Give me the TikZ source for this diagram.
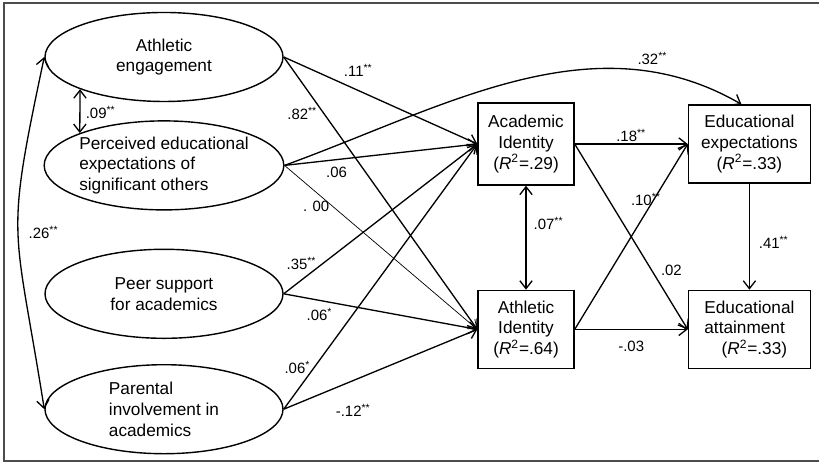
\documentclass[tikz,border=0pt]{standalone}
\usepackage{fontspec}
\setmainfont{Liberation Sans}
\usetikzlibrary{positioning,shapes.geometric,arrows.meta}

\begin{document}
\begin{tikzpicture}[
        >={Straight Barb[length=4.5pt,width=7pt]},
        latent/.style={ellipse,draw,line width=0.8pt,minimum width=4.76cm,minimum height=1.78cm,inner sep=0pt,align=center,font=\fontsize{9.8}{11.8}\selectfont},
        observed/.style={rectangle,draw,line width=0.8pt,minimum width=1.92cm,minimum height=1.56cm,inner sep=0pt,align=center,font=\fontsize{9.8}{11.8}\selectfont},
        outcome/.style={observed,minimum width=2.44cm},
        effect/.style={->,line width=0.75pt},
        lbl/.style={inner sep=1pt,font=\fontsize{8.5}{10}\selectfont}
    ]
        \useasboundingbox (0,0) rectangle (16.38,9.28);
        \draw[line width=1.2pt,black!70] (16.38,9.22) -- (0.08,9.22) -- (0.08,0.06) -- (16.38,0.06);
        \node[latent] (ae) at (3.28,8.14) {Athletic\\engagement};
        \node[latent,below=0.36cm of ae,align=left] (pe) {Perceived educational\\expectations of\\significant others};
        \node[latent,below=0.76cm of pe] (ps) {Peer support\\for academics};
        \node[latent,below=0.5cm of ps,align=left] (pi) {Parental\\involvement in\\academics};
        \node[observed,minimum height=1.64cm] (ai) at (10.52,6.40) {Academic\\Identity\\(\textit{R}\textsuperscript{2}=.29)};
        \node[observed,below=2.08cm of ai] (ati) {Athletic\\Identity\\(\textit{R}\textsuperscript{2}=.64)};
        \node[outcome,right=2.26cm of ai] (ee) {Educational\\expectations\\(\textit{R}\textsuperscript{2}=.33)};
        \node[outcome,right=2.26cm of ati,align=left] (eat) {Educational\\attainment\\\hspace*{1em}(\textit{R}\textsuperscript{2}=.33)};
        \draw[effect] (ae.east) -- node[lbl,pos=.385,above=6.5pt] {.11\textsuperscript{**}} (ai.west);
        \draw[effect] (ae.east) -- node[lbl,pos=.207,left=2.4pt] {.82\textsuperscript{**}} (ati.west);
        \draw[effect] (pe.east) -- node[lbl,pos=.27,below=3pt] {.06} (ai.west);
        \draw[effect,line width=0.4pt] (pe.east) -- node[lbl,pos=.164,below=4pt] {. 00} (ati.west);
        \draw[effect] (pe.east) to[out=20,in=150,looseness=0.95] node[lbl,pos=.8,above=3pt] {.32\textsuperscript{**}} ([xshift=-0.16cm]ee.north);
        \draw[effect] (ps.east) -- node[lbl,pos=.092,above=4.8pt] {.35\textsuperscript{**}} (ai.west);
        \draw[effect] (ps.east) -- node[lbl,pos=.185,below=3pt] {.06\textsuperscript{*}} (ati.west);
        \draw[effect] (pi.east) -- node[lbl,pos=.156,left=0.7pt] {.06\textsuperscript{*}} (ai.west);
        \draw[effect] (pi.east) -- node[lbl,pos=.359,below=12pt] {-.12\textsuperscript{**}} (ati.west);
        \draw[effect] (ai.east) -- node[lbl,midway,above=0pt] {.18\textsuperscript{**}} (ee.west);
        \draw[effect] (ai.east) -- node[lbl,pos=.68,right=4pt] {.02} (eat.west);
        \draw[effect] (ati.east) -- node[lbl,pos=.7,xshift=-4.5pt] {.10\textsuperscript{**}} (ee.west);
        \draw[effect] (ati.east) -- node[lbl,midway,below=5.4pt] {-.03} (eat.west);
        \draw[effect] (ee.south) -- node[lbl,pos=.55,right=4pt] {.41\textsuperscript{**}} (eat.north);
        \draw[effect,<->] (ai.south) -- node[lbl,pos=.36,right=3pt] {.07\textsuperscript{**}} (ati.north);
        \draw[effect,<->] (ae.201) -- node[lbl,pos=.53,right=2pt] {.09\textsuperscript{**}} (pe.159);
        \draw[effect,<->] (ae.west) to[out=258,in=99,looseness=1.4] node[lbl,pos=.5,right=4.7pt] {.26\textsuperscript{**}} (pi.west);
\end{tikzpicture}
\end{document}
